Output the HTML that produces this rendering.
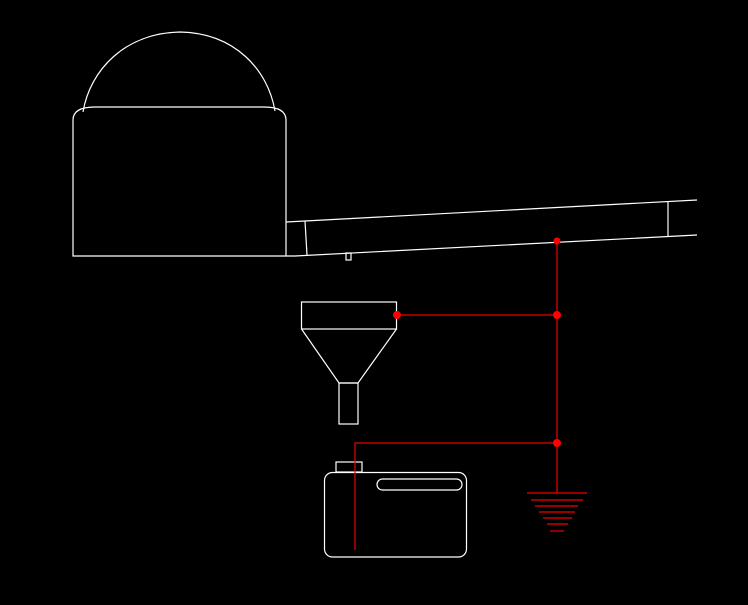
<!DOCTYPE html>
<html><head><style>html,body{margin:0;padding:0;background:#000;width:748px;height:605px;overflow:hidden}</style></head>
<body>
<svg width="748" height="605" viewBox="0 0 748 605" xmlns="http://www.w3.org/2000/svg">
<rect width="748" height="605" fill="#000"/>
<g fill="none" stroke="#fff" stroke-width="1.2">
<!-- dome -->
<path d="M83,112 C90,70 125,33 180,32 C235,33 268,70 275,111"/>
<!-- box -->
<path d="M73,256 L73,120 Q73,107 95,107 L264,107 Q286,107 286,120 L286,256 Z"/>
<!-- beam -->
<path d="M286,222 L305,221 L697,200"/>
<path d="M286,256 L295,256 L697,235"/>
<line x1="305" y1="221" x2="307" y2="255"/>
<line x1="668" y1="202" x2="668" y2="236"/>
<rect x="346" y="253" width="5" height="7"/>
<!-- funnel -->
<rect x="301.5" y="302" width="95" height="27"/>
<path d="M301.5,329 L339,383 L358,383 L396.5,329"/>
<rect x="339" y="383" width="19" height="41"/>
<!-- canister -->
<rect x="336" y="462" width="26" height="10"/>
<rect x="324.5" y="472.5" width="142" height="84.5" rx="8"/>
<rect x="377" y="479" width="85" height="11" rx="5.5"/>
</g>
<g stroke="#e00" stroke-width="1.2" fill="none">
<line x1="557" y1="241" x2="557" y2="493"/>
<line x1="397" y1="315" x2="557" y2="315"/>
<polyline points="355,550 355,443 557,443"/>
<line x1="527" y1="493" x2="587" y2="493"/>
<line x1="531" y1="500" x2="583" y2="500"/>
<line x1="535" y1="506" x2="578" y2="506"/>
<line x1="539" y1="512" x2="575" y2="512"/>
<line x1="543" y1="518" x2="572" y2="518"/>
<line x1="547" y1="524" x2="568" y2="524"/>
<line x1="550" y1="531" x2="564" y2="531"/>
</g>
<g fill="#f00">
<circle cx="557" cy="241" r="3.5"/>
<circle cx="397" cy="315" r="4"/>
<circle cx="557" cy="315" r="4"/>
<circle cx="557" cy="443" r="4"/>
</g>
</svg>
</body></html>
